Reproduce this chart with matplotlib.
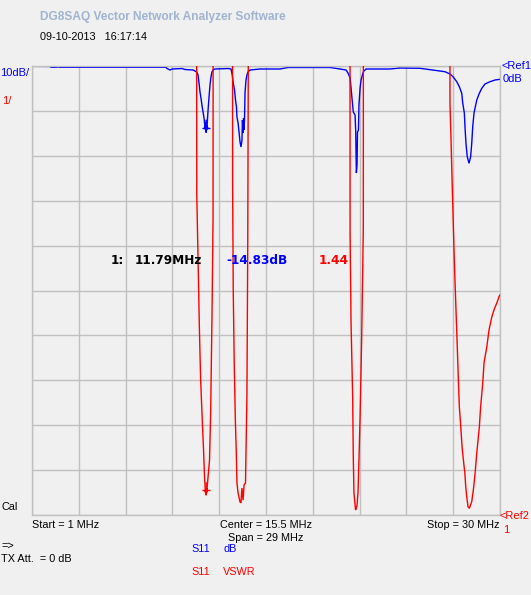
import matplotlib
matplotlib.use("Agg")
import matplotlib.pyplot as plt
import matplotlib.transforms as mtrans
import numpy as np

# ---------------- data ----------------
f_start, f_stop = 1.0, 30.0
db_ref, db_div = 0.0, 10.0
vswr_ref, vswr_div = 1.0, 1.0

# S11 return loss (dB) trace
s11_freq = [1.00, 2.12, 2.18, 2.55, 2.61, 2.67, 9.30, 9.37, 9.55, 9.68, 10.30, 10.48, 10.98,
            11.21, 11.29, 11.35, 11.41, 11.47, 11.53, 11.60, 11.66, 11.72, 11.75, 11.79, 11.81,
            11.84, 11.91, 11.97, 12.03, 12.09, 12.15, 12.22, 12.34, 13.15, 13.33, 13.41, 13.46,
            13.55, 13.61, 13.67, 13.70, 13.77, 13.83, 13.89, 13.95, 14.01, 14.04, 14.08, 14.11,
            14.14, 14.17, 14.20, 14.26, 14.32, 14.38, 14.51, 15.13, 16.37, 16.86, 19.47, 20.09,
            20.46, 20.58, 20.71, 20.77, 20.85, 20.91, 21.02, 21.06, 21.10, 21.14, 21.17, 21.23,
            21.26, 21.33, 21.39, 21.51, 21.57, 21.70, 23.18, 23.80, 25.04, 26.59, 26.90, 27.09,
            27.32, 27.48, 27.63, 27.69, 27.79, 27.83, 27.89, 27.97, 28.08, 28.18, 28.25, 28.31,
            28.39, 28.56, 28.72, 28.87, 29.07, 29.38, 29.69, 30.00]
s11_db = [-0.07, -0.10, -0.29, -0.29, -0.07, -0.29, -0.29, -0.56, -0.89, -0.67, -0.56, -0.78, -0.89,
          -1.34, -2.00, -3.79, -5.79, -7.13, -8.69, -10.25, -11.58, -13.59, -12.47, -14.83, -13.14,
          -13.81, -9.80, -6.90, -4.23, -2.45, -1.34, -0.89, -0.67, -0.56, -0.67, -2.00, -3.56,
          -5.35, -7.57, -9.13, -11.36, -12.70, -14.70, -16.93, -18.04, -16.48, -12.03, -14.92, -11.58,
          -14.25, -11.58, -6.01, -3.12, -2.00, -1.34, -0.89, -0.67, -0.67, -0.33, -0.33, -0.67,
          -0.89, -1.56, -2.67, -4.90, -8.02, -10.25, -10.91, -14.70, -23.83, -22.05, -14.70, -14.25,
          -8.69, -4.90, -3.12, -1.56, -1.11, -0.67, -0.67, -0.45, -0.51, -1.27, -1.78, -2.38,
          -3.50, -4.61, -6.08, -8.24, -10.47, -13.52, -17.15, -20.20, -21.67, -20.20, -17.15, -13.52,
          -10.47, -7.57, -6.08, -4.97, -4.01, -3.50, -3.12, -2.96]

# S11 VSWR trace (values above 11 are off scale)
vswr_freq = [1.00, 11.19, 11.21, 11.30, 11.37, 11.45, 11.55, 11.63, 11.69, 11.74, 11.79, 11.81,
             11.84, 11.91, 12.00, 12.07, 12.15, 12.22, 12.23, 13.42, 13.43, 13.47, 13.53, 13.60,
             13.66, 13.70, 13.77, 13.89, 13.95, 14.01, 14.08, 14.14, 14.23, 14.32, 14.37, 14.40,
             14.49, 20.70, 20.71, 20.77, 20.87, 20.91, 20.95, 21.05, 21.10, 21.14, 21.20, 21.26,
             21.33, 21.43, 21.53, 21.54, 26.89, 26.90, 26.96, 27.03, 27.09, 27.15, 27.21, 27.28,
             27.36, 27.42, 27.48, 27.57, 27.65, 27.75, 27.82, 27.88, 27.94, 28.02, 28.10, 28.25,
             28.35, 28.46, 28.56, 28.72, 28.80, 28.93, 29.01, 29.18, 29.32, 29.49, 29.63, 29.80,
             29.96, 30.00]
vswr_val = [20, 20, 8.13, 6.52, 5.19, 4.01, 3.12, 2.45, 1.85, 1.56, 1.44, 1.60,
            1.56, 1.85, 2.22, 3.27, 5.34, 7.64, 20, 20, 8.42, 6.01, 4.39, 3.12,
            2.38, 1.71, 1.49, 1.29, 1.27, 1.60, 1.33, 1.67, 1.71, 3.72, 7.12, 10.75,
            20, 20, 7.28, 5.28, 3.63, 2.27, 1.49, 1.11, 1.16, 1.22, 1.49, 2.22,
            3.18, 4.96, 7.39, 20, 20, 10.18, 9.42, 8.46, 7.68, 6.90, 6.23, 5.50,
            4.67, 4.01, 3.41, 2.96, 2.51, 2.16, 1.94, 1.62, 1.40, 1.18, 1.15, 1.30,
            1.56, 1.94, 2.38, 2.96, 3.41, 3.94, 4.39, 4.74, 5.12, 5.41, 5.57, 5.72,
            5.88, 5.90]

marker_freq = 11.79
marker_db = -14.83
marker_vswr = 1.44

# ---------------- figure ----------------
W, H = 531, 595
BG = '#f0f0f0'
GRID = '#c0c0c0'
BLUE = '#0000ff'
RED = '#ff0000'
plt.rcParams['font.family'] = ['Liberation Sans', 'DejaVu Sans']

fig = plt.figure(figsize=(W / 100, H / 100), dpi=100, facecolor=BG)
L, R, T, B = 32, 500, 66, 515
ax = fig.add_axes([L / W, 1 - B / H, (R - L) / W, (B - T) / H])
ax.set_facecolor(BG)
ax.set_xlim(f_start, f_stop)
ax.set_ylim(db_ref - 10 * db_div, db_ref)
ax.set_xticks(np.linspace(f_start, f_stop, 11))
ax.set_yticks(np.linspace(db_ref - 10 * db_div, db_ref, 11))
ax.grid(True, color=GRID, lw=1.0)
ax.tick_params(length=0, labelbottom=False, labelleft=False)
for s in ax.spines.values():
    s.set_color(GRID)
    s.set_linewidth(1.0)

ax.plot(s11_freq, s11_db, color=BLUE, lw=1.0, solid_joinstyle='miter')

ax2 = ax.twinx()
ax2.set_ylim(vswr_ref, vswr_ref + 10 * vswr_div)
ax2.set_xlim(f_start, f_stop)
ax2.tick_params(length=0, labelright=False)
for s in ax2.spines.values():
    s.set_visible(False)
ax2.plot(vswr_freq, vswr_val, color=RED, lw=1.0, solid_joinstyle='miter')


def draw_marker(a, x, y, color):
    a.annotate('', xy=(x, y), xytext=(0, 9), textcoords='offset points',
               arrowprops=dict(arrowstyle='-|>', color=color, lw=1.0,
                               mutation_scale=6, shrinkA=0, shrinkB=0))
    tr = mtrans.offset_copy(a.transData, fig=fig, x=0, y=5, units='dots')
    a.plot([x], [y], marker='_', markersize=6, color=color, mew=1.0, transform=tr)


draw_marker(ax, marker_freq, marker_db, BLUE)
draw_marker(ax2, marker_freq, marker_vswr, RED)


def txt(x, y, s, color='black', ha='left', size=7.8, weight='normal', family=None):
    kw = {}
    if family:
        kw['family'] = family
    fig.text(x / W, 1 - y / H, s, color=color, ha=ha, va='center',
             fontsize=size, fontweight=weight, **kw)


txt(40, 17, 'DG8SAQ Vector Network Analyzer Software', color='#a0b4d0', size=8.6, weight='bold')
txt(40, 37, '09-10-2013   16:17:14', size=7.8)
txt(0, 73, '10dB/', color=BLUE, size=8)
txt(2, 101, '1/', color=RED, size=8)
txt(501, 66, '<Ref1', color=BLUE, size=8)
txt(503, 79, '0dB', color=BLUE, size=8)
txt(1, 507, 'Cal', size=7.8)
txt(499, 516, '<Ref2', color=RED, size=8)
txt(503, 530, '1', color=RED, size=8)
txt(32, 525, 'Start = 1 MHz', size=7.8)
txt(266, 525, 'Center = 15.5 MHz', ha='center', size=7.8)
txt(266, 538, 'Span = 29 MHz', ha='center', size=7.8)
txt(500, 525, 'Stop = 30 MHz', ha='right', size=7.8)
txt(1, 546, '=>', size=7.8)
txt(1, 559, 'TX Att.  = 0 dB', size=7.8)
txt(191, 549, 'S11', color=BLUE, size=7.8)
txt(223, 549, 'dB', color=BLUE, size=7.8)
txt(191, 572, 'S11', color=RED, size=7.8)
txt(223, 572, 'VSWR', color=RED, size=7.8)

mk = ['DejaVu Sans']
txt(111, 260, '1:', size=8.7, weight='bold', family=mk)
txt(135, 260, '%.2fMHz' % marker_freq, size=8.7, weight='bold', family=mk)
txt(226, 260, '%.2fdB' % marker_db, color=BLUE, size=8.7, weight='bold', family=mk)
txt(319, 260, '%.2f' % marker_vswr, color=RED, size=8.7, weight='bold', family=mk)

fig.savefig('out.png', dpi=100, facecolor=BG)
